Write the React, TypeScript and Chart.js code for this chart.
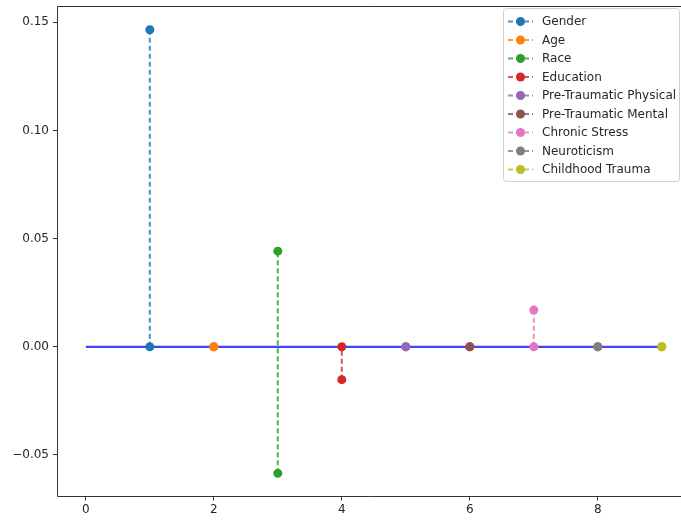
import React, { useEffect, useRef } from "react";
import { Chart, registerables } from "chart.js";

Chart.register(...registerables);

const categories = [
  "Gender",
  "Age",
  "Race",
  "Education",
  "Pre-Traumatic Physical",
  "Pre-Traumatic Mental",
  "Chronic Stress",
  "Neuroticism",
  "Childhood Trauma",
];
const xPositions = [1, 2, 3, 4, 5, 6, 7, 8, 9];
const lowValues = [0, 0, -0.0585, -0.0152, 0, 0, 0, 0, 0];
const highValues = [0.1465, 0, 0.0442, 0, 0, 0, 0.017, 0, 0];
const colors = [
  "#1f77b4",
  "#ff7f0e",
  "#2ca02c",
  "#d62728",
  "#9467bd",
  "#8c564b",
  "#e377c2",
  "#7f7f7f",
  "#bcbd22",
];
const baselineX = [0, 9];
const baselineY = 0;
const yTicks = [-0.05, 0, 0.05, 0.1, 0.15];
const xTicks = [0, 2, 4, 6, 8];

const FONT = "DejaVu Sans";
const TEXT = "#262626";
const SPINE = "#333333";

function hexA(hex: string, a: number) {
  const n = parseInt(hex.slice(1), 16);
  return `rgba(${(n >> 16) & 255},${(n >> 8) & 255},${n & 255},${a})`;
}

const framePlugin = {
  id: "frame",
  afterDatasetsDraw(chart: any) {
    const { ctx, chartArea } = chart;
    const l = Math.round(chartArea.left) + 0.5;
    const t = Math.round(chartArea.top) + 0.5;
    const b = Math.round(chartArea.bottom) - 0.5;
    const r = chart.width + 2;
    ctx.save();
    ctx.strokeStyle = SPINE;
    ctx.lineWidth = 1;
    ctx.beginPath();
    ctx.moveTo(r, t);
    ctx.lineTo(l, t);
    ctx.lineTo(l, b);
    ctx.lineTo(r, b);
    ctx.stroke();
    ctx.restore();
  },
};

const legendPlugin = {
  id: "customLegend",
  afterDraw(chart: any) {
    const ctx = chart.ctx;
    const left = 503;
    const top = 8;
    const w = 176;
    const h = 173;
    ctx.save();
    ctx.fillStyle = "rgba(255,255,255,0.8)";
    ctx.strokeStyle = "#d0d0d0";
    ctx.lineWidth = 1;
    ctx.beginPath();
    if ((ctx as any).roundRect) {
      (ctx as any).roundRect(left + 0.5, top + 0.5, w, h, 3);
    } else {
      ctx.rect(left + 0.5, top + 0.5, w, h);
    }
    ctx.fill();
    ctx.stroke();
    ctx.font = `12px "${FONT}"`;
    ctx.textBaseline = "middle";
    ctx.textAlign = "left";
    categories.forEach((name, i) => {
      const y = top + 13.5 + i * 18.5;
      ctx.strokeStyle = hexA(colors[i], 0.8);
      ctx.lineWidth = 2;
      ctx.setLineDash([5, 3]);
      ctx.beginPath();
      ctx.moveTo(508, y);
      ctx.lineTo(533, y);
      ctx.stroke();
      ctx.setLineDash([]);
      ctx.fillStyle = colors[i];
      ctx.beginPath();
      ctx.arc(520.5, y, 4.5, 0, Math.PI * 2);
      ctx.fill();
      ctx.fillStyle = TEXT;
      ctx.fillText(name, 542, y + 0.5);
    });
    ctx.restore();
  },
};

export default function App() {
  const ref = useRef<HTMLCanvasElement | null>(null);

  useEffect(() => {
    if (!ref.current) return;
    const datasets: any[] = categories.map((name, i) => ({
      label: name,
      data: [
        { x: xPositions[i], y: lowValues[i] },
        { x: xPositions[i], y: highValues[i] },
      ],
      borderColor: hexA(colors[i], 0.8),
      backgroundColor: colors[i],
      borderWidth: 2,
      borderDash: [5, 3],
      pointRadius: 4.5,
      pointBorderWidth: 0,
      pointBackgroundColor: colors[i],
      showLine: true,
      clip: false,
      order: 0,
    }));
    datasets.push({
      label: "baseline",
      data: baselineX.map((x) => ({ x, y: baselineY })),
      borderColor: "rgba(20,20,255,0.8)",
      borderWidth: 2.2,
      pointRadius: 0,
      showLine: true,
      clip: false,
      order: 5,
    });

    const chart = new Chart(ref.current, {
      type: "scatter",
      data: { datasets },
      options: {
        responsive: false,
        animation: false,
        events: [],
        layout: {
          autoPadding: false,
          padding: { top: 6, right: 0, left: 0, bottom: 0 },
        },
        plugins: {
          legend: { display: false },
          tooltip: { enabled: false },
        },
        scales: {
          x: {
            type: "linear",
            min: -0.45,
            max: 9.3,
            afterFit: (s: any) => {
              s.height = 23.5;
              s.paddingLeft = 0;
              s.paddingRight = 0;
            },
            afterBuildTicks: (s: any) => {
              s.ticks = xTicks.map((v) => ({ value: v }));
            },
            grid: {
              drawOnChartArea: false,
              tickLength: 4,
              tickColor: SPINE,
            },
            border: { display: false },
            ticks: {
              padding: 2,
              color: TEXT,
              font: { family: FONT, size: 12 },
              maxRotation: 0,
              callback: (v: any) => String(v),
            },
          },
          y: {
            type: "linear",
            min: -0.0692,
            max: 0.1575,
            afterFit: (s: any) => {
              s.width = 57;
              s.paddingTop = 0;
              s.paddingBottom = 0;
            },
            afterBuildTicks: (s: any) => {
              s.ticks = yTicks.map((v) => ({ value: v }));
            },
            grid: {
              drawOnChartArea: false,
              tickLength: 4,
              tickColor: SPINE,
            },
            border: { display: false },
            ticks: {
              padding: 4,
              color: TEXT,
              font: { family: FONT, size: 12 },
              callback: (v: any) => {
                const n = Number(v);
                const s = Math.abs(n).toFixed(2);
                return n < -1e-9 ? "\u2212" + s : s;
              },
            },
          },
        },
      },
      plugins: [framePlugin, legendPlugin],
    });
    return () => chart.destroy();
  }, []);

  return (
    <div
      style={{
        position: "fixed",
        left: 0,
        top: 0,
        width: 681,
        height: 520,
        overflow: "hidden",
        background: "#fff",
      }}
    >
      <canvas ref={ref} width={681} height={520} style={{ width: 681, height: 520, display: "block" }} />
    </div>
  );
}
